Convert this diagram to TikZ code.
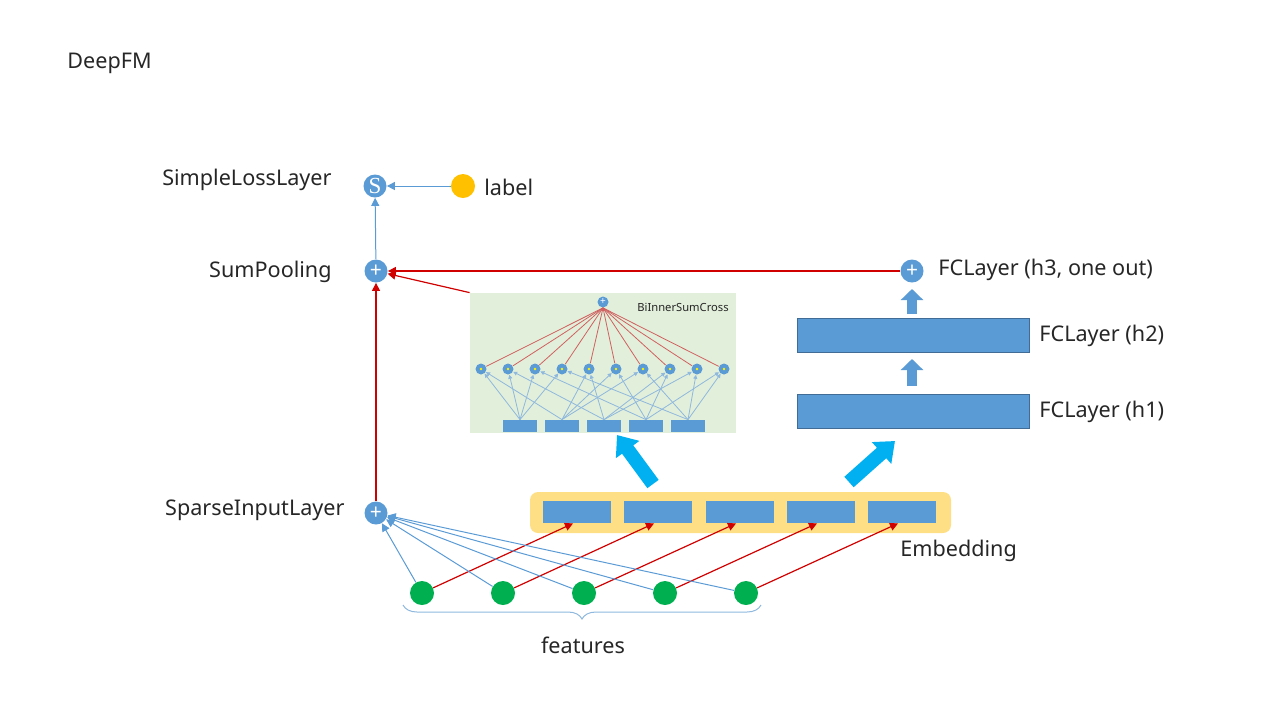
\documentclass[tikz,border=0pt]{standalone}
\usepackage{fontspec}
\setmainfont{Noto Sans}
\newfontfamily\serifS{Liberation Serif}
\usetikzlibrary{arrows.meta,decorations.pathreplacing}
\definecolor{nodeblue}{HTML}{5B9BD5}
\definecolor{featgreen}{HTML}{00B050}
\definecolor{dotyellow}{HTML}{FFC000}
\definecolor{embyellow}{HTML}{FFDF85}
\definecolor{crossgreen}{HTML}{E2EFDA}
\definecolor{bigcyan}{HTML}{00B0F0}
\definecolor{linkred}{HTML}{D00000}
\definecolor{thinred}{HTML}{D06060}
\definecolor{thinblue}{HTML}{8FB8DE}
\definecolor{txtgray}{HTML}{262626}

\begin{document}
\begin{tikzpicture}[x=0.5pt,y=-0.5pt]
	\useasboundingbox (0,0) rectangle (1280,720);
	\tikzstyle{txt}=[text=txtgray,inner sep=0pt,font=\fontsize{10.8}{12}\selectfont]
	\tikzstyle{plusnode}=[circle,fill=nodeblue,text=white,minimum size=11.5pt,inner sep=0pt,font=\fontsize{10.5}{10}\selectfont]
	\tikzstyle{feat}=[circle,fill=featgreen,minimum size=12pt,inner sep=0pt]
	\tikzstyle{embrect}=[fill=nodeblue,minimum width=34pt,minimum height=11pt,inner sep=0pt]
	\tikzstyle{fcrect}=[fill=nodeblue,draw=nodeblue!70!black,line width=0.4pt,minimum width=116pt,minimum height=17pt,inner sep=0pt]
	\tikzstyle{smallrect}=[fill=nodeblue,minimum width=17pt,minimum height=6pt,inner sep=0pt]
	\tikzstyle{pairnode}=[circle,fill=nodeblue,minimum size=5.5pt,inner sep=0pt]
	\tikzstyle{bluearr}=[nodeblue,line width=0.5pt,-{Triangle[width=4pt,length=4pt]}]
	\tikzstyle{redarr}=[linkred,line width=0.6pt,-{Triangle[width=4pt,length=4pt]}]
	\tikzstyle{bigarr}=[bigcyan,line width=7pt,-{Triangle[width=14pt,length=9pt]}]
	\tikzstyle{fcarr}=[nodeblue,line width=5pt,-{Triangle[width=11pt,length=5.5pt]}]

	\node[txt,anchor=west] (title) at (67,63) {DeepFM};

	% loss and pooling
	\node[plusnode,font=\serifS\fontsize{11.5}{11}\selectfont] (loss) at (375,186) {S};
	\node[circle,fill=dotyellow,minimum size=12pt,inner sep=0pt] (labeldot) at (463,186) {};
	\node[txt,anchor=west] (labeltxt) at (484,187) {label};
	\node[txt,anchor=east] (losstxt) at (332,180) {SimpleLossLayer};
	\node[plusnode] (sumpool) at (376,271) {+};
	\node[txt,anchor=east] (sumtxt) at (332,272) {SumPooling};
	\node[plusnode] (sparse) at (376,513) {+};
	\node[txt,anchor=east] (sparsetxt) at (345,510) {SparseInputLayer};

	% deep part
	\node[plusnode] (h3) at (912,271) {+};
	\node[txt,anchor=west] (h3txt) at (938,270) {FCLayer (h3, one out)};
	\node[fcrect] (h2) at (913,335) {};
	\node[txt,anchor=west] (h2txt) at (1039,336) {FCLayer (h2)};
	\node[fcrect] (h1) at (913,411) {};
	\node[txt,anchor=west] (h1txt) at (1039,412) {FCLayer (h1)};
	\draw[fcarr] (912,314) -- (912,289);
	\draw[fcarr] (912,386) -- (912,359);

	% cross part
	\node[fill=crossgreen,minimum width=133pt,minimum height=70pt,inner sep=0pt] (cross) at (603,363) {};
	\node[txt,anchor=west,font=\fontsize{5.6}{6}\selectfont] (crosstxt) at (637,307) {BiInnerSumCross};
	\node[pairnode] (cplus) at (603,302) {};
	\node[text=white,inner sep=0pt,font=\fontsize{5}{5}\selectfont] at (cplus) {+};
	\foreach \i in {1,...,5}
		\node[smallrect] (b\i) at ({478+42*\i},426) {};
	\foreach \k in {1,...,10}{
		\node[pairnode] (p\k) at ({481+27*(\k-1)},369) {};
		\fill[yellow] (p\k) circle (0.7pt);
		\draw[thinred,line width=0.4pt] (p\k) -- (cplus.south);
	}
	\foreach \a/\b [count=\k] in {1/2,1/3,1/4,1/5,2/3,2/4,2/5,3/4,3/5,4/5}{
		\draw[thinblue,line width=0.4pt,-{Triangle[width=2pt,length=2pt]}] (b\a.north) -- (p\k);
		\draw[thinblue,line width=0.4pt,-{Triangle[width=2pt,length=2pt]}] (b\b.north) -- (p\k);
	}

	% embedding
	\node[fill=embyellow,rounded corners=4pt,minimum width=210.5pt,minimum height=20.5pt,inner sep=0pt] (embed) at (740.5,512.5) {};
	\node[txt,anchor=west] (embtxt) at (900,551) {Embedding};
	\foreach \i/\x in {1/577,2/658,3/740,4/821,5/902}
		\node[embrect] (e\i) at (\x,512) {};

	% features
	\foreach \i/\x in {1/422,2/503,3/584,4/665,5/746}{
		\node[feat] (f\i) at (\x,593) {};
		\draw[bluearr] (f\i) -- (sparse);
		\draw[redarr] (f\i) -- ([xshift=-2pt]e\i.south);
	}
	\draw[thinblue,line width=0.5pt,decorate,decoration={brace,mirror,amplitude=7pt}] (403,605) -- (761,605);
	\node[txt] (feattxt) at (583,645) {features};

	% big arrows
	\coordinate (crossin) at (617,435);
	\coordinate (crossfrom) at (653,484);
	\coordinate (deepin) at (895,441);
	\coordinate (deepfrom) at (849,482);
	\draw[bigarr] (crossfrom) -- (crossin);
	\draw[bigarr] (deepfrom) -- (deepin);

	% links
	\draw[bluearr] (labeldot) -- (loss);
	\draw[bluearr] (sumpool) -- (loss);
	\draw[redarr] (sparse) -- (sumpool);
	\draw[redarr] (h3) -- (sumpool);
	\draw[redarr] (cross.north west) -- (sumpool);
\end{tikzpicture}
\end{document}
